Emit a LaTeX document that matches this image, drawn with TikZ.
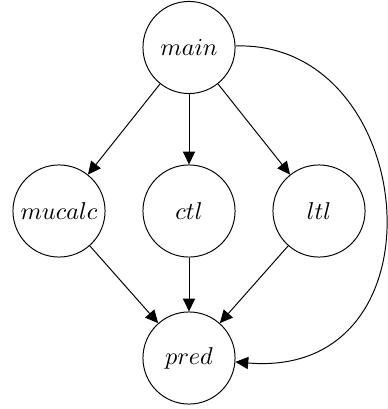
\documentclass[tikz,border=0pt]{standalone}
\usetikzlibrary{arrows.meta}
\begin{document}
\begin{tikzpicture}[x=0.4115pt,y=-0.4115pt,
  state/.style={draw,circle,minimum size=37.9pt,inner sep=0pt,line width=0.4pt},
  edge/.style={-{Triangle[length=5.3pt,width=5pt]},line width=0.4pt}]
  \useasboundingbox (0,0) rectangle (387,409);
  \node[state] (main)   at (189,47.5) {$main$};
  \node[state] (mucalc) at (59,211)  {$mucalc$};
  \node[state] (ctl)    at (189,211) {$ctl$};
  \node[state] (ltl)    at (319,211) {$ltl$};
  \node[state] (pred)   at (189,358) {$pred$};
  \coordinate (c1) at (420,40);
  \coordinate (c2) at (450,380);
  \draw[edge] (main) -- (mucalc);
  \draw[edge] (main) -- (ctl);
  \draw[edge] (main) -- (ltl);
  \draw[edge] (mucalc) -- (pred);
  \draw[edge] (ctl) -- (pred);
  \draw[edge] (ltl) -- (pred);
  \draw[edge] (main) .. controls (c1) and (c2) .. (pred);
\end{tikzpicture}
\end{document}
